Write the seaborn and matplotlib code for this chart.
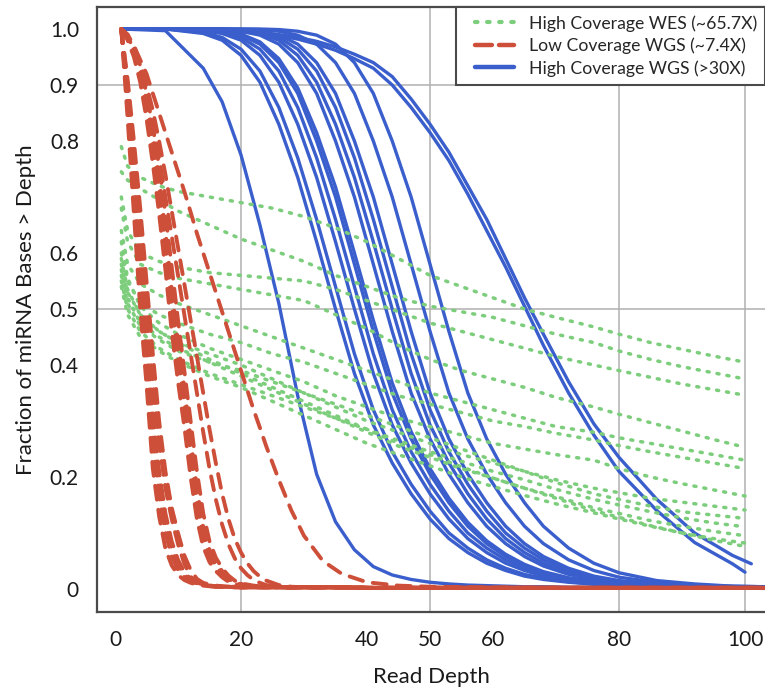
import matplotlib
matplotlib.use("Agg")
import matplotlib.pyplot as plt
from matplotlib.lines import Line2D
from matplotlib.legend_handler import HandlerLine2D
import pandas as pd
import seaborn as sns

# ---------------- data ----------------
# High coverage WGS (blue, solid) -- shared depth grid
XB = [1, 8, 14, 17, 20, 23, 26, 29, 32, 35, 38, 41, 44, 47, 50, 53, 56, 59, 62, 65, 68, 72, 76, 80, 86, 92, 98, 103]
WGS_HIGH = {
    "h01": [1.0, 0.997, 0.93, 0.87, 0.775, 0.65, 0.51, 0.345, 0.205, 0.12, 0.07, 0.04, 0.025, 0.017, 0.012, 0.009, 0.007, 0.006, 0.005, 0.004, 0.004, 0.003, 0.003, 0.002, 0.002, 0.002, 0.002, 0.001],
    "h02": [1.0, 1.0, 0.992, 0.980, 0.953, 0.905, 0.830, 0.735, 0.620, 0.500, 0.385, 0.293, 0.225, 0.170, 0.125, 0.090, 0.065, 0.046, 0.033, 0.023, 0.017, 0.012, 0.0085, 0.006, 0.004, 0.003, 0.003, 0.0025],
    "h03": [1.0, 1.0, 0.994, 0.985, 0.964, 0.925, 0.860, 0.770, 0.660, 0.540, 0.420, 0.320, 0.245, 0.187, 0.139, 0.100, 0.073, 0.052, 0.037, 0.026, 0.019, 0.013, 0.009, 0.007, 0.005, 0.004, 0.003, 0.0025],
    "h04": [1.0, 1.0, 0.997, 0.992, 0.980, 0.953, 0.905, 0.830, 0.735, 0.620, 0.500, 0.385, 0.293, 0.225, 0.170, 0.125, 0.090, 0.065, 0.046, 0.033, 0.023, 0.015, 0.011, 0.008, 0.005, 0.004, 0.003, 0.0025],
    "h06": [1.0, 1.0, 0.998, 0.994, 0.985, 0.964, 0.925, 0.860, 0.770, 0.660, 0.540, 0.420, 0.320, 0.245, 0.187, 0.139, 0.100, 0.073, 0.052, 0.037, 0.026, 0.017, 0.012, 0.0085, 0.005, 0.004, 0.003, 0.003],
    "h08": [1.0, 1.0, 0.999, 0.996, 0.989, 0.973, 0.940, 0.885, 0.800, 0.700, 0.580, 0.460, 0.350, 0.268, 0.205, 0.154, 0.112, 0.081, 0.058, 0.041, 0.029, 0.019, 0.013, 0.009, 0.005, 0.004, 0.003, 0.003],
    "h09": [1.0, 1.0, 1.0, 0.997, 0.991, 0.977, 0.947, 0.895, 0.815, 0.718, 0.600, 0.480, 0.368, 0.281, 0.215, 0.162, 0.119, 0.086, 0.062, 0.044, 0.031, 0.020, 0.0135, 0.0095, 0.0055, 0.004, 0.003, 0.003],
    "h10": [1.0, 1.0, 1.0, 0.999, 0.996, 0.989, 0.973, 0.940, 0.885, 0.800, 0.700, 0.580, 0.460, 0.350, 0.268, 0.205, 0.154, 0.112, 0.081, 0.058, 0.041, 0.026, 0.017, 0.012, 0.007, 0.005, 0.004, 0.003],
    "h11": [1.0, 1.0, 1.0, 1.0, 0.997, 0.992, 0.980, 0.953, 0.905, 0.830, 0.735, 0.620, 0.500, 0.385, 0.293, 0.225, 0.170, 0.125, 0.090, 0.065, 0.046, 0.029, 0.019, 0.013, 0.008, 0.005, 0.004, 0.003],
    "h12": [1.0, 1.0, 1.0, 1.0, 0.998, 0.994, 0.985, 0.964, 0.925, 0.860, 0.770, 0.660, 0.540, 0.420, 0.320, 0.245, 0.187, 0.139, 0.100, 0.073, 0.052, 0.033, 0.021, 0.014, 0.0085, 0.005, 0.004, 0.003],
    "h13": [1.0, 1.0, 1.0, 1.0, 0.999, 0.996, 0.989, 0.973, 0.940, 0.885, 0.800, 0.700, 0.580, 0.460, 0.350, 0.268, 0.205, 0.154, 0.112, 0.081, 0.058, 0.037, 0.023, 0.015, 0.009, 0.005, 0.004, 0.003],
    "h14": [1.0, 1.0, 1.0, 1.0, 1.0, 0.999, 0.996, 0.989, 0.973, 0.940, 0.885, 0.800, 0.700, 0.580, 0.460, 0.350, 0.268, 0.205, 0.154, 0.112, 0.081, 0.052, 0.033, 0.021, 0.012, 0.007, 0.005, 0.004],
    "h15": [1.0, 1.0, 1.0, 1.0, 1.0, 1.0, 0.999, 0.996, 0.989, 0.973, 0.940, 0.885, 0.800, 0.700, 0.580, 0.460, 0.350, 0.268, 0.205, 0.154, 0.112, 0.073, 0.046, 0.029, 0.015, 0.009, 0.005, 0.004],
}
# the two broad high-coverage WGS samples
XW_A = [1, 8, 14, 17, 20, 23, 26, 29, 32, 35, 38, 41, 44, 47, 50, 53, 56, 59, 62, 65, 68, 72, 76, 80, 86, 92, 98, 101]
WGS_WIDE_A = [1.0, 1.0, 0.999, 0.998, 0.996, 0.993, 0.99, 0.985, 0.978, 0.968, 0.955, 0.94, 0.915, 0.875, 0.83, 0.78, 0.72, 0.66, 0.59, 0.52, 0.455, 0.37, 0.295, 0.235, 0.16, 0.10, 0.06, 0.045]
XW_B = [1, 8, 14, 17, 20, 23, 26, 29, 32, 35, 38, 41, 44, 47, 50, 53, 56, 59, 62, 65, 68, 72, 76, 80, 86, 92, 98, 100]
WGS_WIDE_B = [1.0, 1.0, 0.999, 0.997, 0.995, 0.992, 0.988, 0.982, 0.973, 0.962, 0.947, 0.93, 0.90, 0.86, 0.815, 0.765, 0.705, 0.64, 0.575, 0.505, 0.435, 0.35, 0.275, 0.21, 0.14, 0.083, 0.045, 0.03]

# Low coverage WGS (red, dashed)
XR = [1, 2, 3, 4, 5, 6, 7, 8, 9, 10, 11, 12, 13, 14, 15, 16, 17, 18, 19, 20, 21, 22, 23, 24, 26, 28, 30, 33, 36, 40, 45, 50, 60, 80, 103]
WGS_LOW = {
    "l01": [1.0, 0.84, 0.67, 0.50, 0.365, 0.215, 0.13, 0.072, 0.042, 0.025, 0.016, 0.011, 0.008, 0.006, 0.005, 0.004, 0.004, 0.004, 0.003, 0.003, 0.003, 0.003, 0.003, 0.003, 0.003, 0.003, 0.003, 0.003, 0.003, 0.002, 0.002, 0.002, 0.002, 0.002, 0.002],
    "l02": [1.0, 0.86, 0.71, 0.55, 0.41, 0.26, 0.165, 0.10, 0.058, 0.034, 0.021, 0.014, 0.010, 0.007, 0.005, 0.004, 0.004, 0.004, 0.003, 0.003, 0.003, 0.003, 0.003, 0.003, 0.003, 0.003, 0.003, 0.003, 0.003, 0.002, 0.002, 0.002, 0.002, 0.002, 0.002],
    "l03": [1.0, 0.87, 0.73, 0.575, 0.435, 0.29, 0.19, 0.118, 0.072, 0.042, 0.025, 0.016, 0.011, 0.008, 0.006, 0.005, 0.004, 0.004, 0.004, 0.003, 0.003, 0.003, 0.003, 0.003, 0.003, 0.003, 0.003, 0.003, 0.003, 0.002, 0.002, 0.002, 0.002, 0.002, 0.002],
    "l04": [1.0, 0.88, 0.75, 0.60, 0.46, 0.32, 0.21, 0.135, 0.085, 0.052, 0.030, 0.018, 0.012, 0.008, 0.006, 0.005, 0.004, 0.004, 0.004, 0.003, 0.003, 0.003, 0.003, 0.003, 0.003, 0.003, 0.003, 0.003, 0.003, 0.002, 0.002, 0.002, 0.002, 0.002, 0.002],
    "l05": [1.0, 0.90, 0.78, 0.65, 0.50, 0.37, 0.26, 0.18, 0.125, 0.08, 0.045, 0.022, 0.012, 0.008, 0.006, 0.005, 0.004, 0.004, 0.004, 0.003, 0.003, 0.003, 0.003, 0.003, 0.003, 0.003, 0.003, 0.003, 0.003, 0.002, 0.002, 0.002, 0.002, 0.002, 0.002],
    "l06": [1.0, 0.91, 0.80, 0.68, 0.55, 0.42, 0.30, 0.21, 0.145, 0.10, 0.06, 0.034, 0.018, 0.011, 0.008, 0.006, 0.005, 0.004, 0.004, 0.003, 0.003, 0.003, 0.003, 0.003, 0.003, 0.003, 0.003, 0.003, 0.003, 0.002, 0.002, 0.002, 0.002, 0.002, 0.002],
    "l07": [1.0, 0.98, 0.95, 0.905, 0.84, 0.76, 0.67, 0.57, 0.46, 0.37, 0.29, 0.20, 0.125, 0.075, 0.048, 0.032, 0.021, 0.013, 0.009, 0.006, 0.005, 0.004, 0.004, 0.004, 0.003, 0.003, 0.003, 0.003, 0.003, 0.002, 0.002, 0.002, 0.002, 0.002, 0.002],
    "l08": [1.0, 0.985, 0.96, 0.92, 0.86, 0.79, 0.71, 0.61, 0.50, 0.41, 0.33, 0.24, 0.15, 0.09, 0.058, 0.04, 0.027, 0.017, 0.011, 0.007, 0.005, 0.004, 0.004, 0.004, 0.003, 0.003, 0.003, 0.003, 0.003, 0.002, 0.002, 0.002, 0.002, 0.002, 0.002],
    "l09": [1.0, 0.985, 0.962, 0.925, 0.868, 0.80, 0.722, 0.625, 0.518, 0.425, 0.345, 0.255, 0.165, 0.10, 0.064, 0.043, 0.029, 0.018, 0.012, 0.008, 0.006, 0.005, 0.004, 0.004, 0.003, 0.003, 0.003, 0.003, 0.003, 0.002, 0.002, 0.002, 0.002, 0.002, 0.002],
    "l10": [1.0, 0.99, 0.965, 0.93, 0.875, 0.81, 0.735, 0.64, 0.535, 0.44, 0.36, 0.27, 0.18, 0.11, 0.07, 0.047, 0.032, 0.02, 0.013, 0.009, 0.006, 0.005, 0.004, 0.004, 0.003, 0.003, 0.003, 0.003, 0.003, 0.002, 0.002, 0.002, 0.002, 0.002, 0.002],
    "l11": [0.995, 0.985, 0.965, 0.935, 0.885, 0.825, 0.755, 0.67, 0.575, 0.48, 0.39, 0.30, 0.21, 0.135, 0.085, 0.056, 0.037, 0.024, 0.015, 0.01, 0.008, 0.006, 0.005, 0.004, 0.003, 0.003, 0.003, 0.003, 0.003, 0.002, 0.002, 0.002, 0.002, 0.002, 0.002],
    "l12": [1.0, 0.985, 0.96, 0.925, 0.88, 0.83, 0.77, 0.70, 0.63, 0.56, 0.49, 0.42, 0.35, 0.28, 0.215, 0.16, 0.115, 0.08, 0.055, 0.037, 0.025, 0.016, 0.011, 0.007, 0.004, 0.003, 0.003, 0.003, 0.003, 0.002, 0.002, 0.002, 0.002, 0.002, 0.002],
    "l13": [1.0, 0.99, 0.97, 0.94, 0.90, 0.855, 0.80, 0.74, 0.675, 0.61, 0.545, 0.48, 0.415, 0.35, 0.285, 0.225, 0.17, 0.125, 0.09, 0.065, 0.046, 0.032, 0.022, 0.015, 0.007, 0.004, 0.003, 0.003, 0.003, 0.002, 0.002, 0.002, 0.002, 0.002, 0.002],
    "l14": [1.0, 0.985, 0.97, 0.945, 0.92, 0.885, 0.85, 0.815, 0.78, 0.745, 0.71, 0.673, 0.635, 0.60, 0.565, 0.53, 0.495, 0.46, 0.425, 0.39, 0.355, 0.32, 0.288, 0.255, 0.195, 0.14, 0.095, 0.05, 0.027, 0.012, 0.006, 0.004, 0.003, 0.002, 0.002],
}

# High coverage WES (green, dotted)
XG = [1, 2, 4, 7, 10, 15, 20, 25, 30, 35, 40, 45, 50, 55, 60, 65, 70, 76, 80, 85, 90, 95, 100]
WES_HIGH = {
    "e01": [0.79, 0.755, 0.735, 0.72, 0.71, 0.70, 0.69, 0.68, 0.665, 0.645, 0.62, 0.59, 0.56, 0.54, 0.52, 0.50, 0.485, 0.468, 0.455, 0.44, 0.428, 0.416, 0.405],
    "e02": [0.745, 0.73, 0.715, 0.695, 0.675, 0.65, 0.625, 0.605, 0.585, 0.56, 0.54, 0.52, 0.505, 0.495, 0.485, 0.47, 0.455, 0.44, 0.425, 0.41, 0.397, 0.386, 0.375],
    "e03": [0.70, 0.64, 0.60, 0.585, 0.575, 0.565, 0.56, 0.555, 0.55, 0.535, 0.515, 0.495, 0.475, 0.46, 0.445, 0.43, 0.415, 0.40, 0.39, 0.378, 0.366, 0.356, 0.346],
    "e04": [0.68, 0.62, 0.58, 0.565, 0.555, 0.545, 0.535, 0.525, 0.515, 0.49, 0.465, 0.435, 0.41, 0.39, 0.375, 0.36, 0.342, 0.325, 0.312, 0.297, 0.282, 0.267, 0.253],
    "e05": [0.64, 0.58, 0.545, 0.525, 0.51, 0.49, 0.47, 0.45, 0.43, 0.41, 0.39, 0.37, 0.35, 0.335, 0.32, 0.305, 0.29, 0.28, 0.27, 0.26, 0.25, 0.24, 0.23],
    "e06": [0.60, 0.55, 0.51, 0.49, 0.475, 0.455, 0.44, 0.42, 0.405, 0.385, 0.365, 0.345, 0.33, 0.315, 0.30, 0.29, 0.278, 0.266, 0.256, 0.245, 0.235, 0.225, 0.215],
    "e07": [0.62, 0.555, 0.505, 0.475, 0.455, 0.43, 0.41, 0.39, 0.37, 0.345, 0.325, 0.305, 0.29, 0.275, 0.26, 0.25, 0.24, 0.23, 0.215, 0.20, 0.188, 0.177, 0.166],
    "e08": [0.58, 0.53, 0.49, 0.46, 0.44, 0.42, 0.40, 0.375, 0.35, 0.325, 0.30, 0.28, 0.26, 0.24, 0.225, 0.21, 0.195, 0.18, 0.172, 0.162, 0.155, 0.148, 0.141],
    "e09": [0.56, 0.51, 0.47, 0.445, 0.425, 0.405, 0.39, 0.37, 0.35, 0.33, 0.31, 0.29, 0.27, 0.25, 0.23, 0.21, 0.19, 0.17, 0.16, 0.148, 0.138, 0.132, 0.126],
    "e10": [0.55, 0.50, 0.46, 0.43, 0.41, 0.385, 0.365, 0.345, 0.325, 0.305, 0.285, 0.265, 0.245, 0.228, 0.21, 0.195, 0.178, 0.16, 0.15, 0.138, 0.127, 0.118, 0.111],
    "e11": [0.57, 0.52, 0.475, 0.45, 0.43, 0.405, 0.38, 0.355, 0.33, 0.305, 0.28, 0.255, 0.235, 0.215, 0.198, 0.18, 0.165, 0.145, 0.135, 0.122, 0.112, 0.103, 0.095],
    "e12": [0.54, 0.49, 0.45, 0.425, 0.405, 0.38, 0.36, 0.335, 0.31, 0.285, 0.26, 0.24, 0.22, 0.20, 0.183, 0.167, 0.152, 0.136, 0.125, 0.112, 0.10, 0.09, 0.082],
    "e13": [0.59, 0.535, 0.49, 0.46, 0.44, 0.41, 0.385, 0.36, 0.335, 0.31, 0.285, 0.26, 0.24, 0.218, 0.198, 0.18, 0.162, 0.14, 0.128, 0.113, 0.10, 0.087, 0.076],
}

LEGEND_LABELS = ["High Coverage WES (~65.7X)", "Low Coverage WGS (~7.4X)", "High Coverage WGS (>30X)"]
X_TICKS = [0, 20, 40, 50, 60, 80, 100]
Y_TICKS = [0, 0.2, 0.4, 0.5, 0.6, 0.8, 0.9, 1.0]
Y_TICK_LABELS = ["0", "0.2", "0.4", "0.5", "0.6", "0.8", "0.9", "1.0"]
GRID_X = [20, 50, 80, 100]
GRID_Y = [0.5, 0.9]

# ---------------- build long tables ----------------
def long_frame(xs, curves):
    rows = []
    for name, ys in curves.items():
        for x, y in zip(xs, ys):
            rows.append((name, x, y))
    return pd.DataFrame(rows, columns=["curve", "depth", "frac"])

df_blue = pd.concat([
    long_frame(XB, WGS_HIGH),
    long_frame(XW_A, {"wA": WGS_WIDE_A}),
    long_frame(XW_B, {"wB": WGS_WIDE_B}),
], ignore_index=True)
df_red = long_frame(XR, WGS_LOW)
df_green = long_frame(XG, WES_HIGH)

BLUE = "#3A5FCD"
RED = "#CD4F39"
GREEN = "#7CCD7C"
SPINE = "#4a4a4a"

sns.set_style("white")
plt.rcParams["font.family"] = ["Lato", "DejaVu Sans"]

W, H = 765, 692
fig = plt.figure(figsize=(W / 100, H / 100), dpi=100)
ax = fig.add_axes([97 / W, 1 - 612 / H, (W - 97) / W, (612 - 7) / H])

for gx in GRID_X:
    ax.axvline(gx, color="#b0b0b0", lw=1.1, zorder=0)
for gy in GRID_Y:
    ax.axhline(gy, color="#b0b0b0", lw=1.1, zorder=0)

sns.lineplot(data=df_blue, x="depth", y="frac", units="curve", estimator=None,
             color=BLUE, lw=2.4, legend=False, ax=ax, zorder=2,
             solid_capstyle="round", solid_joinstyle="round")
sns.lineplot(data=df_green, x="depth", y="frac", units="curve", estimator=None,
             color=GREEN, lw=2.5, legend=False, ax=ax, zorder=3,
             linestyle=(0, (0.6, 2.3)), dash_capstyle="round")
sns.lineplot(data=df_red, x="depth", y="frac", units="curve", estimator=None,
             color=RED, lw=2.8, legend=False, ax=ax, zorder=4,
             linestyle=(0, (3.6, 2.6)), dash_capstyle="round")

ax.set_xlim(-2.86, 103.17)
ax.set_ylim(-0.0411, 1.0393)
ax.set_xticks(X_TICKS)
ax.set_xticklabels([str(t) for t in X_TICKS])
ax.set_yticks(Y_TICKS)
ax.set_yticklabels(Y_TICK_LABELS)
ax.tick_params(axis="both", direction="out", length=7, width=1.3, color=SPINE,
               labelsize=15, pad=6, labelcolor="#1a1a1a")
for side in ["left", "top", "bottom"]:
    ax.spines[side].set_color(SPINE)
    ax.spines[side].set_linewidth(1.6)
    ax.spines[side].set_visible(True)
ax.spines["right"].set_visible(False)

ax.set_xlabel("Read Depth", fontsize=16, labelpad=12, color="#1a1a1a")
ax.set_ylabel("Fraction of miRNA Bases > Depth", fontsize=16, labelpad=10, color="#1a1a1a")

handles = [
    Line2D([], [], color=GREEN, lw=3.0, linestyle=(0, (0.6, 2.3)), dash_capstyle="round"),
    Line2D([], [], color=RED, lw=3.2, linestyle=(0, (3.8, 1.6)), dash_capstyle="round"),
    Line2D([], [], color=BLUE, lw=3.2, solid_capstyle="round"),
]
leg = ax.legend(handles, LEGEND_LABELS, loc="upper left",
                bbox_to_anchor=((456 - 97) / (W - 97), 1.0),
                frameon=True, fancybox=False, framealpha=1, edgecolor=SPINE,
                fontsize=12.7, handlelength=2.85, handletextpad=0.85,
                labelspacing=0.34, borderpad=0.45, borderaxespad=0,
                handler_map={Line2D: HandlerLine2D(xpad=0.6)})
leg.get_frame().set_linewidth(1.5)
leg.set_zorder(10)

fig.savefig("out.png", dpi=100)
